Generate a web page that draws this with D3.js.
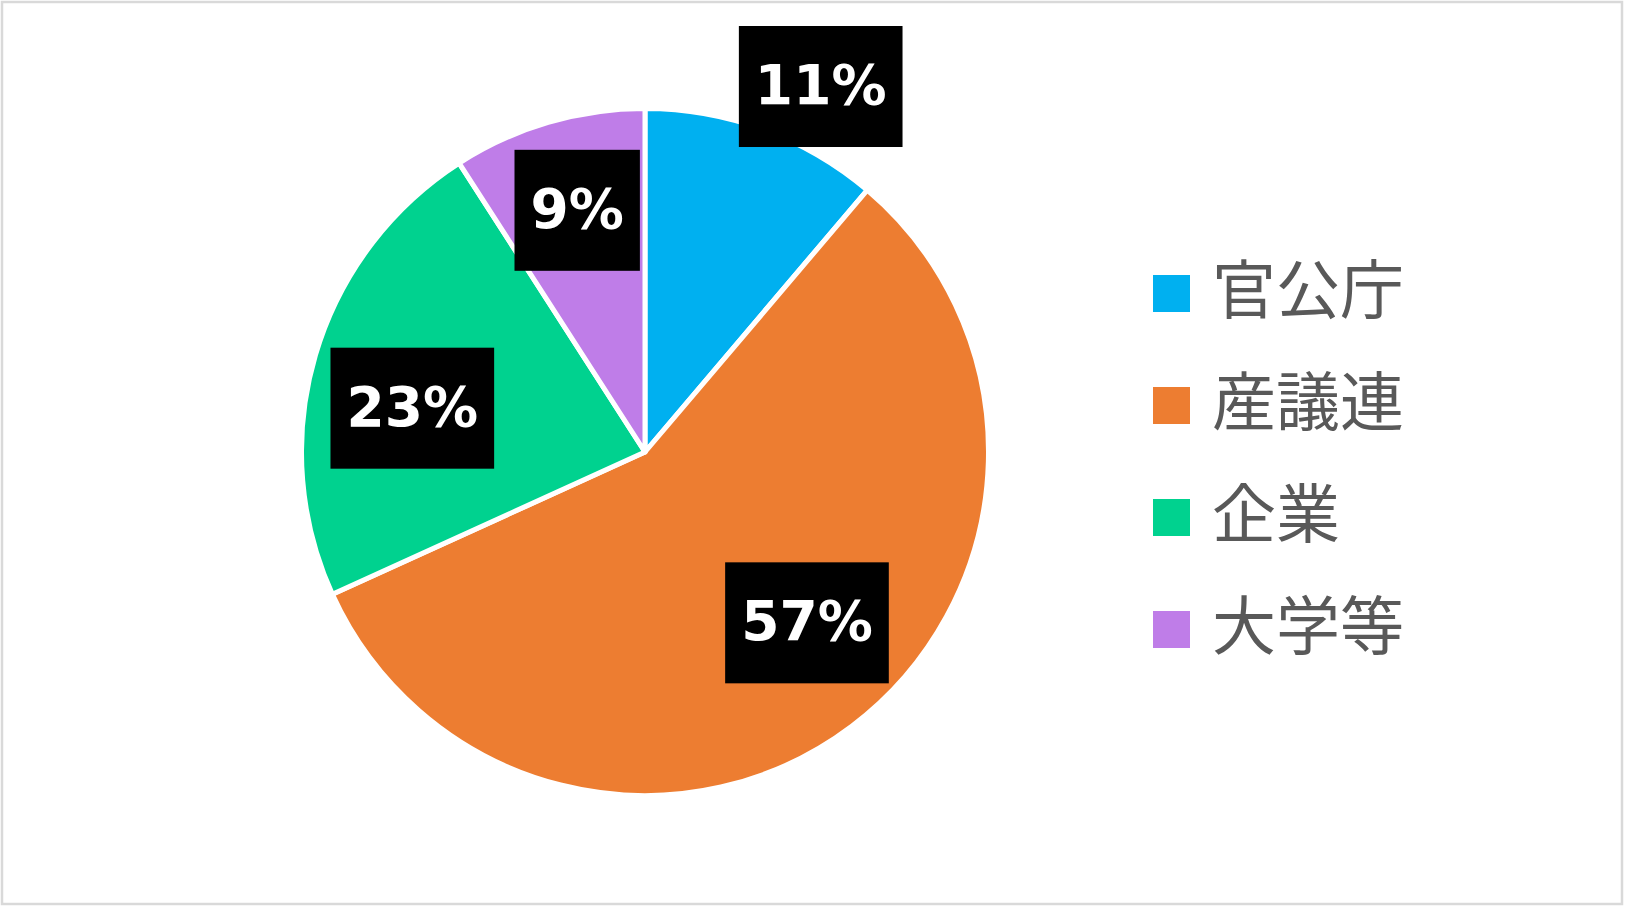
<!DOCTYPE html>
<html>
<head>
<meta charset="utf-8">
<script src="https://cdn.jsdelivr.net/npm/d3@7"></script>
<style>
  body { margin: 0; background: #fff; }
</style>
</head>
<body>
<div id="wrapper"></div>
<script>
const categories = ["官公庁", "産議連", "企業", "大学等"];
const shares = [11.2, 57.0, 22.7, 9.1];
const colors = ["#00B0F0", "#ED7D31", "#00D28F", "#BF7DE8"];

// label placement: radius factor + small nudge, like excel's best fit
const labelPlace = {
    "官公庁": {k: 1.18, dx: 36, dy: 15},
    "産議連": {k: 0.7, dx: 17, dy: -21},
    "企業": {k: 0.7, dx: -2, dy: 24},
    "大学等": {k: 0.7, dx: 0, dy: -11}
};

function build() {
    const dimension = {width: 1627, height: 912};
    const cx = 645, cy = 452, radius = 343.5;

    const wrapper = d3.select("#wrapper")
        .append("svg")
        .attr("width", dimension.width)
        .attr("height", dimension.height);

    // chart area frame
    wrapper.append("rect")
        .attr("x", 2).attr("y", 2)
        .attr("width", 1620).attr("height", 902)
        .attr("fill", "none")
        .attr("stroke", "#d9d9d9")
        .attr("stroke-width", 2.5);

    const data = categories.map((c, i) => ({name: c, value: shares[i], color: colors[i]}));

    const pie = d3.pie().sort(null).value(d => d.value);
    const arcs = pie(data);
    const arc = d3.arc().innerRadius(0).outerRadius(radius);

    const bounds = wrapper.append("g")
        .attr("transform", `translate(${cx},${cy})`);

    bounds.selectAll("path")
        .data(arcs)
        .enter()
        .append("path")
        .attr("d", arc)
        .attr("fill", d => d.data.color)
        .attr("stroke", "#fff")
        .attr("stroke-width", 5)
        .attr("stroke-linejoin", "round");

    // data labels
    const labels = bounds.selectAll("g.label")
        .data(arcs)
        .enter()
        .append("g")
        .attr("class", "label")
        .attr("transform", d => {
            const p = labelPlace[d.data.name];
            const la = d3.arc().innerRadius(radius * p.k).outerRadius(radius * p.k);
            const c = la.centroid(d);
            return `translate(${c[0] + p.dx},${c[1] + p.dy})`;
        });

    labels.append("rect").attr("fill", "#000");

    const txt = labels.append("text")
        .attr("text-anchor", "middle")
        .attr("y", 17.5)
        .style("font-family", "'DejaVu Sans', Verdana, sans-serif")
        .style("font-weight", "bold")
        .style("font-size", "55px")
        .attr("fill", "#fff")
        .text(d => Math.round(d.data.value) + "%");

    txt.each(function() {
        const w = this.getComputedTextLength();
        d3.select(this.parentNode).select("rect")
            .attr("x", -w / 2 - 16)
            .attr("y", -60.5)
            .attr("width", w + 32)
            .attr("height", 121);
    });

    // legend
    const rowY = d3.scalePoint()
        .domain(categories)
        .range([293.5, 629.5]);

    const legend = wrapper.append("g")
        .selectAll("g")
        .data(data)
        .enter()
        .append("g")
        .attr("transform", d => `translate(1153,${rowY(d.name)})`);

    legend.append("rect")
        .attr("x", 0)
        .attr("y", -18.5)
        .attr("width", 37)
        .attr("height", 37)
        .attr("fill", d => d.color);

    legend.append("text")
        .attr("x", 59)
        .attr("y", -9)
        .attr("dominant-baseline", "central")
        .style("font-family", "'Noto Sans CJK JP', sans-serif")
        .style("font-size", "64px")
        .attr("fill", "#595959")
        .text(d => d.name);
}

build();
</script>
</body>
</html>
